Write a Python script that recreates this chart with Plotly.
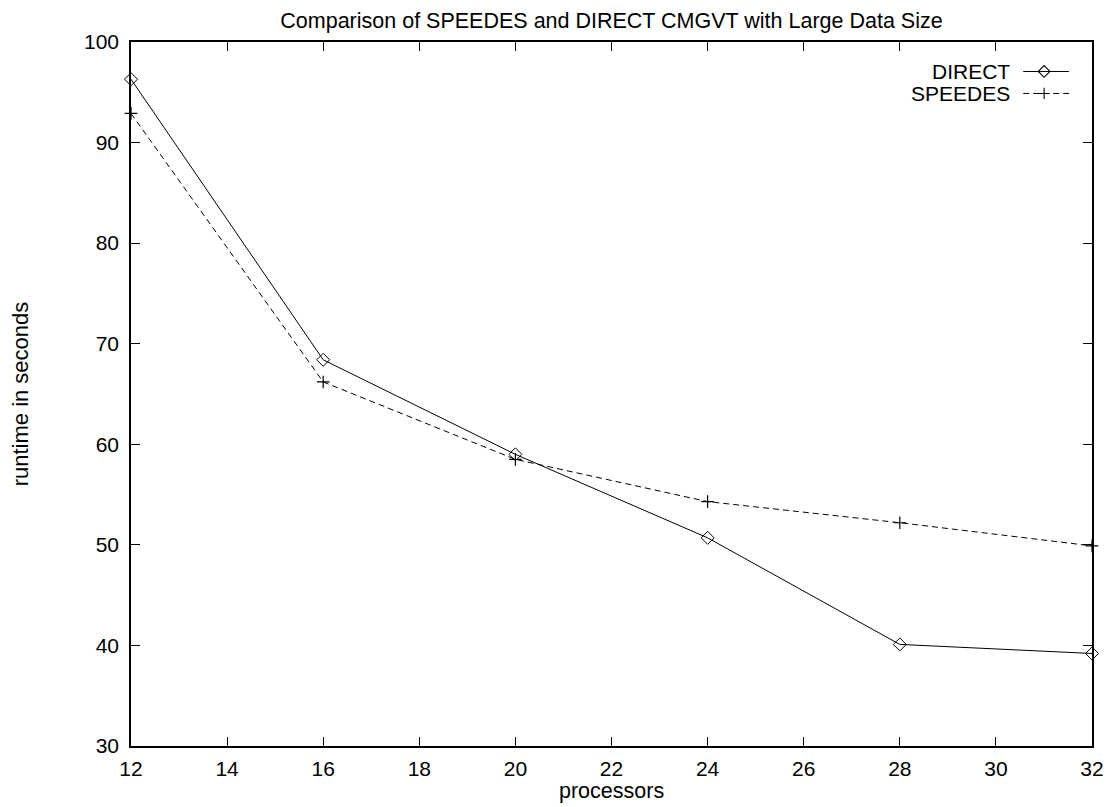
import plotly.graph_objects as go

processors = [12, 16, 20, 24, 28, 32]
direct = [96.3, 68.4, 59.0, 50.7, 40.1, 39.2]
speedes = [92.9, 66.2, 58.5, 54.3, 52.2, 49.9]
x_ticks = list(range(12, 33, 2))
y_ticks = list(range(30, 101, 10))

FONT = "Liberation Sans, Arial, Helvetica, sans-serif"
W, H = 1116, 807
L, R, T, B = 131, 21, 41.5, 61
pw, ph = W - L - R, H - T - B

def px(xp):
    return (xp - L) / pw

def py(yp):
    return (H - B - yp) / ph

fig = go.Figure()
fig.add_trace(go.Scatter(
    x=processors, y=direct, mode="lines+markers", name="DIRECT",
    line=dict(color="black", width=1),
    marker=dict(symbol="diamond-open", size=10, color="black", line=dict(width=1)),
    cliponaxis=False, showlegend=False))
fig.add_trace(go.Scatter(
    x=processors, y=speedes, mode="lines+markers", name="SPEEDES",
    line=dict(color="black", width=1, dash="6px,4px"),
    marker=dict(symbol="cross-thin", size=9, color="black", line=dict(width=1.2, color="black")),
    cliponaxis=False, showlegend=False))

# custom gnuplot-style key (text, then sample)
key = [("DIRECT", 71, "solid", "diamond-open", 9), ("SPEEDES", 93, "6px,4px", "cross-thin", 8)]
for name, yp, dash, sym, sz in key:
    fig.add_annotation(text=name, xref="paper", yref="paper", x=px(1015), y=py(yp),
                       xanchor="right", yanchor="middle", showarrow=False,
                       font=dict(family=FONT, size=21, color="black"))
    fig.add_shape(type="line", xref="paper", yref="paper", x0=px(1026), x1=px(1072),
                  y0=py(yp), y1=py(yp), line=dict(color="black", width=1, dash=dash))
    fig.add_trace(go.Scatter(x=[px(1047)], y=[py(yp)], xaxis="x2", yaxis="y2", mode="markers",
                             marker=dict(symbol=sym, size=sz, color="black", line=dict(width=1.1, color="black")),
                             showlegend=False, hoverinfo="skip"))

axis_common = dict(showline=True, linecolor="black", linewidth=1.5, mirror="ticks",
                   ticks="inside", ticklen=9, tickwidth=1.2, tickcolor="black",
                   showgrid=False, zeroline=False,
                   tickfont=dict(family=FONT, size=21, color="black"))

fig.update_layout(
    width=W, height=H,
    margin=dict(l=L, r=R, t=T, b=B),
    paper_bgcolor="white", plot_bgcolor="white",
    title=dict(text="Comparison of SPEEDES and DIRECT CMGVT with Large Data Size",
               x=0.5, xref="paper", y=1 - 20 / H, yref="container", yanchor="middle",
               font=dict(family=FONT, size=21.5, color="black")),
    xaxis=dict(range=[12, 32], tickvals=x_ticks, ticklabelstandoff=3, **axis_common),
    yaxis=dict(range=[30, 100], tickvals=y_ticks, ticklabelstandoff=6, **axis_common),
    xaxis2=dict(range=[0, 1], overlaying="x", visible=False, fixedrange=True),
    yaxis2=dict(range=[0, 1], overlaying="y", visible=False, fixedrange=True),
    showlegend=False,
)
fig.add_annotation(text="processors", xref="paper", yref="paper", x=0.5, y=py(791),
                   xanchor="center", yanchor="middle", showarrow=False,
                   font=dict(family=FONT, size=21.5, color="black"))
fig.add_annotation(text="runtime in seconds", xref="paper", yref="paper", x=px(20), y=0.5,
                   xanchor="center", yanchor="middle", textangle=-90, showarrow=False,
                   font=dict(family=FONT, size=22, color="black"))

fig.write_html("out.html")
